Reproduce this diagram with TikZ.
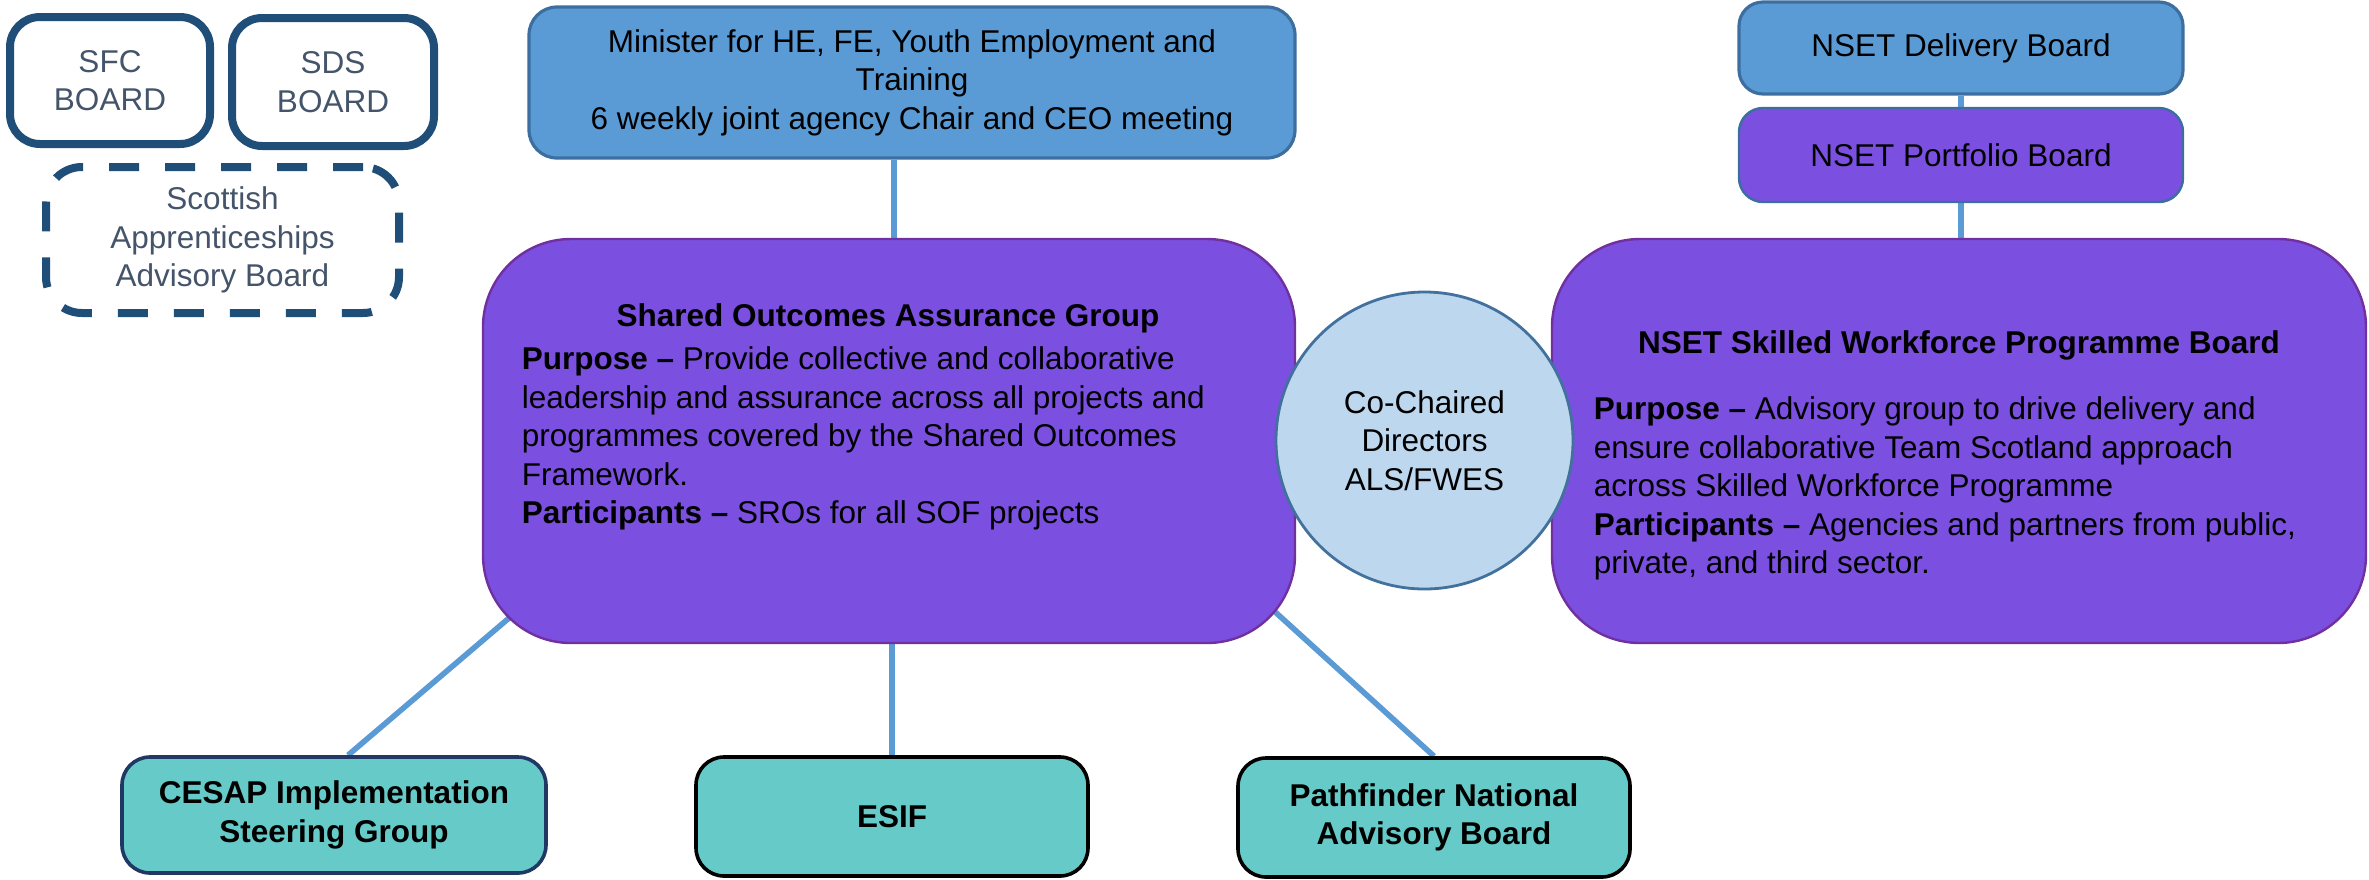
\documentclass[tikz,border=0pt]{standalone}
\usepackage{fontspec}
\setmainfont{Liberation Sans}
\usetikzlibrary{calc,backgrounds}
\definecolor{connblue}{HTML}{5B9BD5}
\definecolor{boxblue}{HTML}{5B9BD5}
\definecolor{boxblueline}{HTML}{3C6F9F}
\definecolor{boxpurple}{HTML}{7B4FE0}
\definecolor{boxpurpleline}{HTML}{7030A0}
\definecolor{circfill}{HTML}{BDD7EE}
\definecolor{circline}{HTML}{41719C}
\definecolor{boxteal}{HTML}{66CBC8}
\definecolor{navy}{HTML}{1F3864}
\definecolor{boardline}{HTML}{1F4E79}
\definecolor{boardtext}{HTML}{44546A}
\begin{document}
\begin{tikzpicture}[x=0.25pt,y=-0.25pt,
  font=\fontsize{7.875pt}{9.625pt}\selectfont,
  every node/.style={inner sep=0pt, align=center},
  connline/.style={draw=connblue, line width=1.4pt},
  boardbox/.style={draw=boardline, line width=2pt, rounded corners=7.5pt, text=boardtext, fill=white},
  dashbox/.style={draw=boardline, line width=2pt, rounded corners=9pt, dash pattern=on 7.5pt off 6.5pt, text=boardtext, fill=white},
  bluebox/.style={draw=boxblueline, line width=0.8pt, fill=boxblue, rounded corners=7pt},
  purplebox/.style={draw=boxpurpleline, line width=0.6pt, fill=boxpurple, rounded corners=22pt},
  smallpurple/.style={draw=boxblueline, line width=0.6pt, fill=boxpurple, rounded corners=6pt},
  tealbox/.style={draw=black, line width=0.9pt, fill=boxteal, rounded corners=7pt, font=\fontsize{7.875pt}{9.625pt}\selectfont\bfseries},
  circ/.style={circle, draw=circline, line width=0.7pt, fill=circfill}
]
\useasboundingbox (0,0) rectangle (2369,879);

% top-left boards
\node[boardbox, minimum width=50pt, minimum height=31.75pt] (sfc) at (110,80.5) {SFC\\BOARD};
\node[boardbox, minimum width=50.5pt, minimum height=32pt] (sds) at (333,82) {SDS\\BOARD};
\node[dashbox, minimum width=88.25pt, minimum height=36.5pt] (sab) at (222.5,240) {Scottish\\Apprenticeships\\Advisory Board};

% minister
\node[bluebox, minimum width=191.5pt, minimum height=37.75pt] (minister) at (912,82.5)
  {Minister for HE, FE, Youth Employment and\\Training\\6 weekly joint agency Chair and CEO meeting};

% NSET boards
\node[bluebox, rounded corners=6pt, minimum width=111pt, minimum height=23pt] (delivery) at (1961,48) {NSET Delivery Board};
\node[smallpurple, minimum width=111pt, minimum height=23.5pt] (portfolio) at (1961,155) {NSET Portfolio Board};

% main purple boxes
\node[purplebox, minimum width=203pt, minimum height=101pt] (soag) at (889,441) {};
\node[font=\fontsize{7.875pt}{9.625pt}\selectfont\bfseries] (soagtitle) at (888,318) {Shared Outcomes Assurance Group};
\node[anchor=north west, align=left] (soagbody) at (521,346)
  {\textbf{Purpose –} Provide collective and collaborative\\
   leadership and assurance across all projects and\\
   programmes covered by the Shared Outcomes\\
   Framework.\\
   \textbf{Participants –} SROs for all SOF projects};

\node[purplebox, minimum width=203.5pt, minimum height=101pt] (swpb) at (1959,441) {};
\node[font=\fontsize{7.875pt}{9.625pt}\selectfont\bfseries] (swpbtitle) at (1959,345) {NSET Skilled Workforce Programme Board};
\node[anchor=north west, align=left] (swpbbody) at (1593,396)
  {\textbf{Purpose –} Advisory group to drive delivery and\\
   ensure collaborative Team Scotland approach\\
   across Skilled Workforce Programme\\
   \textbf{Participants –} Agencies and partners from public,\\
   private, and third sector.};

% circle
\node[circ, minimum size=74.25pt] (cochair) at (1424.5,440.5) {Co-Chaired\\Directors\\ALS/FWES};

% bottom boxes
\node[tealbox, draw=navy, minimum width=106pt, minimum height=29pt] (cesap) at (334,815) {CESAP Implementation\\Steering Group};
\node[tealbox, minimum width=98pt, minimum height=29.75pt] (esif) at (892,816.5) {ESIF};
\node[tealbox, minimum width=98pt, minimum height=29.75pt] (pathfinder) at (1434,817.5) {Pathfinder National\\Advisory Board};

% connectors
\begin{scope}[on background layer]
\coordinate (soagtop) at ($(soag.north)+(5,0)$);
\draw[connline] (soagtop) -- (soagtop |- minister.south);
\draw[connline] (delivery.south) -- (portfolio.north);
\draw[connline] (portfolio.south) -- (portfolio.south |- swpb.north);
\draw[connline] (esif.north) -- (esif.north |- soag.south);
\draw[connline] ($(cesap.north)+(14,0)$) -- ($(soag.south west)+(47,-43)$);
\draw[connline] (pathfinder.north) -- ($(soag.south east)+(-45,-54)$);
\end{scope}
\end{tikzpicture}
\end{document}
